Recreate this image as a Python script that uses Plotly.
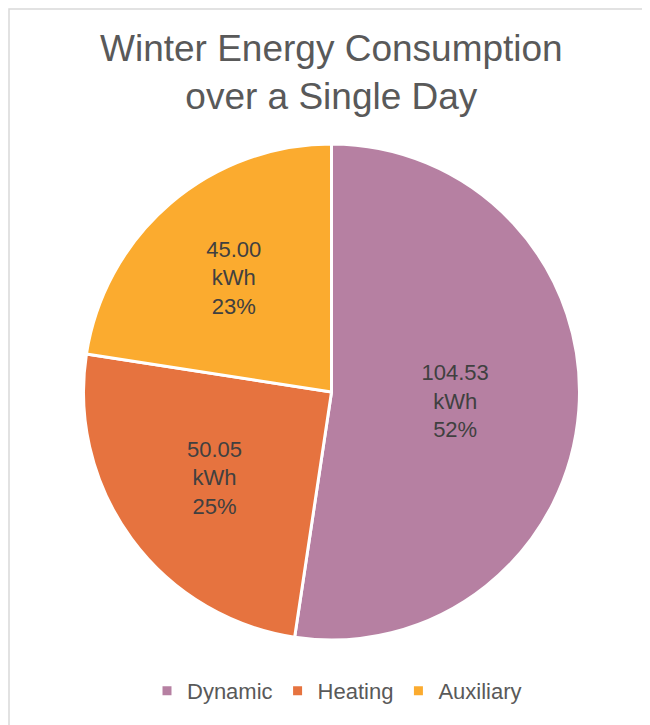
import plotly.graph_objects as go

categories = ["Dynamic", "Heating", "Auxiliary"]
values = [104.53, 50.05, 45.00]
colors = ["#B680A2", "#E6733F", "#FBAB2F"]

W, H = 650, 725
FONT = "Liberation Sans"
OFF = 8  # page body margin

fig = go.Figure()
fig.add_trace(go.Pie(
    labels=categories,
    values=values,
    sort=False,
    direction="clockwise",
    rotation=0,
    marker=dict(colors=colors, line=dict(color="white", width=3)),
    texttemplate="%{value:.2f}<br>kWh<br>%{percent:.0%}",
    textposition="inside",
    insidetextorientation="horizontal",
    textfont=dict(family=FONT, size=22, color="#404040"),
    domain=dict(x=[(83 - OFF) / W, (580 - OFF) / W], y=[1 - (640 - OFF) / H, 1 - (144 - OFF) / H]),
    hoverinfo="label+value+percent",
))

fig.update_layout(
    width=W, height=H,
    margin=dict(l=0, r=0, t=0, b=0, autoexpand=False),
    paper_bgcolor="white",
    annotations=[dict(
        text="Winter Energy Consumption<br>over a Single Day",
        xref="paper", yref="paper", x=(331 - OFF) / W, y=1 - (73 - OFF) / H,
        xanchor="center", yanchor="middle", showarrow=False,
        font=dict(family=FONT, size=37, color="#595959"),
    )],
    legend=dict(
        orientation="h", x=(337 - OFF) / W, xanchor="center", y=1 - (691 - OFF) / H, yanchor="middle",
        font=dict(family=FONT, size=22, color="#595959"),
        itemwidth=30,
        traceorder="normal",
    ),
    shapes=[dict(type="rect", xref="paper", yref="paper",
                 x0=1 / W, x1=1.05, y0=-0.05, y1=1 - 1 / H,
                 line=dict(color="#D9D9D9", width=1.5), fillcolor="rgba(0,0,0,0)", layer="below")],
)

fig.write_html("out.html")
